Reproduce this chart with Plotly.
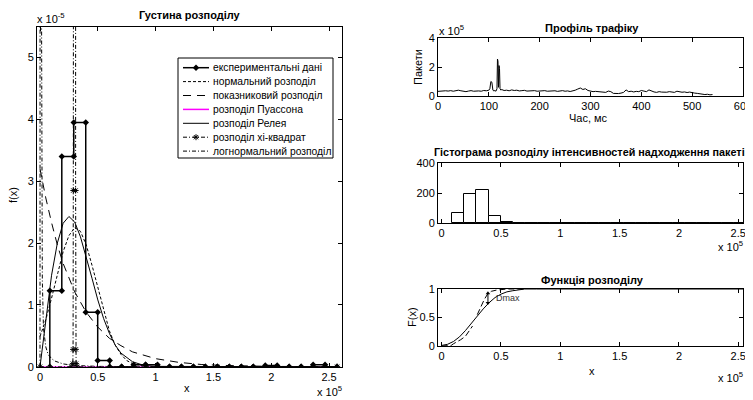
import plotly.graph_objects as go

W, H = 753, 400          # target picture size
OFF = 8                   # page body margin offset
FW, FH = W - OFF, H - OFF  # figure size

# ---------------- data (x in units of 1e5, densities in units of 1e-5) ----------------
hist_start = 0.085
bin_width = 0.1035
hist_counts = [69, 191, 222, 50, 6, 0, 0, 2, 2, 0, 0, 0, 0, 0, 0, 0, 0, 0, 1, 0, 0, 0, 2, 0]
exp_density = [1.23, 3.40, 3.95, 0.88, 0.10, 0, 0, 0.03, 0.03, 0, 0, 0, 0, 0, 0, 0, 0, 0, 0.02, 0, 0, 0, 0.03, 0]

norm_x = [0, 0.05, 0.1, 0.15, 0.2, 0.25, 0.3, 0.35, 0.4, 0.45, 0.5, 0.55, 0.6, 0.65, 0.7, 0.75, 0.8, 0.9, 1.0, 2.57]
norm_y = [0.49, 0.76, 1.11, 1.50, 1.86, 2.12, 2.25, 2.19, 1.97, 1.64, 1.27, 0.90, 0.58, 0.35, 0.20, 0.10, 0.05, 0.01, 0, 0]

expo_x = [0, 0.05, 0.1, 0.15, 0.2, 0.25, 0.3, 0.4, 0.5, 0.6, 0.7, 0.8, 0.9, 1.0, 1.2, 1.4, 1.6, 1.8, 2.0, 2.57]
expo_y = [3.20, 2.73, 2.33, 1.97, 1.67, 1.43, 1.21, 0.88, 0.64, 0.46, 0.34, 0.24, 0.18, 0.13, 0.07, 0.035, 0.02, 0.01, 0.005, 0]

pois_x = [0, 2.57]
pois_y = [0, 0]

ray_x = [0, 0.05, 0.1, 0.15, 0.2, 0.25, 0.3, 0.35, 0.4, 0.45, 0.5, 0.55, 0.6, 0.65, 0.7, 0.8, 0.9, 1.0, 2.57]
ray_y = [0, 0.78, 1.48, 2.00, 2.32, 2.43, 2.34, 2.10, 1.78, 1.43, 1.08, 0.78, 0.54, 0.35, 0.22, 0.08, 0.02, 0.005, 0]

chi_x = [0, 0.27, 0.284, 0.286, 0.288, 0.290, 0.306, 0.308, 0.310, 0.312, 0.32, 2.57]
chi_y = [0, 0, 0.05, 0.28, 2.85, 60, 60, 2.85, 0.28, 0.05, 0, 0]

logn_x = [0, 0.002, 0.004, 0.006, 0.01, 0.015, 0.02, 0.03, 0.04, 0.05, 0.07, 0.1, 0.13, 0.2, 0.3, 0.5, 1.0, 2.57]
logn_y = [0, 30, 60, 30, 8, 3, 1.4, 0.62, 0.42, 0.32, 0.20, 0.13, 0.09, 0.045, 0.02, 0.005, 0, 0]

# traffic profile (packets, units of 1e5) vs time, ms
prof_t = (list(range(0, 101, 5))
          + [102, 104, 106, 108, 110, 112, 114, 116, 117, 118, 119, 120, 121, 122, 124]
          + list(range(125, 541, 5)))
prof_v = ([0.32, 0.35, 0.38, 0.36, 0.34, 0.37, 0.33, 0.35, 0.40, 0.36, 0.32, 0.30, 0.34, 0.37, 0.33,
           0.36, 0.35, 0.33, 0.38, 0.36, 0.40]
          + [0.50, 1.00, 0.95, 0.40, 0.35, 0.38, 0.33, 0.50, 2.55, 2.40, 0.60, 2.10, 1.90, 0.50, 0.40]
          + [0.45, 0.38, 0.40, 0.36, 0.42, 0.38, 0.40, 0.35, 0.37, 0.39, 0.34, 0.36, 0.40, 0.37, 0.33, 0.36]
          + [0.34, 0.37, 0.33, 0.35, 0.38, 0.36, 0.32, 0.34, 0.37, 0.33, 0.35, 0.31, 0.34, 0.40]
          + [0.48, 0.55, 0.45, 0.50, 0.38, 0.33]
          + [0.30, 0.32, 0.29, 0.31, 0.28, 0.25, 0.34, 0.30]
          + [0.18, 0.15, 0.17, 0.20, 0.25]
          + [0.42, 0.30, 0.33, 0.28, 0.32, 0.30, 0.38, 0.35, 0.30, 0.42, 0.33]
          + [0.28, 0.25, 0.30, 0.27, 0.24, 0.26, 0.30, 0.28, 0.25, 0.33, 0.27, 0.26, 0.28, 0.24, 0.27, 0.22]
          + [0.20, 0.18, 0.15, 0.13, 0.10, 0.12, 0.08, 0.10])

cdf_theor_x = [0, 0.05, 0.1, 0.15, 0.2, 0.25, 0.3, 0.35, 0.4, 0.45, 0.5, 0.55, 0.6, 0.65, 0.7, 0.8, 2.57]
cdf_theor_y = [0.01, 0.03, 0.08, 0.16, 0.27, 0.40, 0.53, 0.65, 0.76, 0.85, 0.91, 0.95, 0.97, 0.99, 1.0, 1.0, 1.0]
cdf_emp_x = [0, 0.05, 0.08, 0.1, 0.13, 0.16, 0.2, 0.23, 0.26, None, 0.30, 0.33, 0.36, 0.39, 0.42, 0.46, 0.5, 0.55, 0.6, 0.7]
cdf_emp_y = [0, 0, 0.01, 0.04, 0.07, 0.11, 0.17, 0.25, 0.35, None, 0.55, 0.70, 0.82, 0.92, 0.96, 0.98, 0.99, 1.0, 1.0, 1.0]
dmax_x = 0.39
dmax_lo = 0.755
dmax_hi = 0.925

legend_names = ["експериментальні дані", "нормальний розподіл", "показниковий розподіл",
                "розподіл Пуассона", "розподіл Релея", "розподіл хі-квадрат", "логнормальний розподіл"]

# ---------------- helpers ----------------
def px(x):
    return (x - OFF) / FW

def py(y):
    return 1 - (y - OFF) / FH

FONT = "Liberation Sans, Arial, sans-serif"
BLACK = "black"

edges = [hist_start + i * bin_width for i in range(len(hist_counts) + 1)]
centers = [hist_start + (i + 0.5) * bin_width for i in range(len(hist_counts))]
exp_x = [edges[0]]
exp_y = [0]
for i, d in enumerate(exp_density):
    exp_x += [edges[i], edges[i + 1]]
    exp_y += [d, d]

fig = go.Figure()

# left density plot
fig.add_trace(go.Scatter(x=pois_x, y=pois_y, mode="lines", line=dict(color="magenta", width=1),
                         xaxis="x", yaxis="y", showlegend=False))
fig.add_trace(go.Scatter(x=exp_x, y=exp_y, mode="lines+markers",
                         line=dict(color=BLACK, width=1.5),
                         marker=dict(symbol="diamond", size=5, color=BLACK),
                         xaxis="x", yaxis="y", showlegend=False))
fig.add_trace(go.Scatter(x=norm_x, y=norm_y, mode="lines", line=dict(color=BLACK, width=1, dash="3px,2px"),
                         xaxis="x", yaxis="y", showlegend=False))
fig.add_trace(go.Scatter(x=expo_x, y=expo_y, mode="lines", line=dict(color=BLACK, width=1, dash="8px,6px"),
                         xaxis="x", yaxis="y", showlegend=False))
fig.add_trace(go.Scatter(x=ray_x, y=ray_y, mode="lines", line=dict(color=BLACK, width=1),
                         xaxis="x", yaxis="y", showlegend=False))
fig.add_trace(go.Scatter(x=chi_x, y=chi_y, mode="lines+markers",
                         line=dict(color=BLACK, width=1, dash="4px,2px,1px,2px"),
                         marker=dict(symbol="asterisk-open", size=5, color=BLACK, line=dict(color=BLACK, width=1)),
                         xaxis="x", yaxis="y", showlegend=False))
fig.add_trace(go.Scatter(x=logn_x, y=logn_y, mode="lines",
                         line=dict(color=BLACK, width=1, dash="4px,2px,1px,2px"),
                         xaxis="x", yaxis="y", showlegend=False))

# profile
fig.add_trace(go.Scatter(x=prof_t, y=prof_v, mode="lines", line=dict(color=BLACK, width=1),
                         xaxis="x2", yaxis="y2", showlegend=False))
# histogram
fig.add_trace(go.Bar(x=centers, y=hist_counts, width=bin_width,
                     marker=dict(color="white", line=dict(color=BLACK, width=1)),
                     xaxis="x3", yaxis="y3", showlegend=False))
# cdf
fig.add_trace(go.Scatter(x=cdf_theor_x, y=cdf_theor_y, mode="lines", line=dict(color=BLACK, width=1),
                         xaxis="x4", yaxis="y4", showlegend=False))
fig.add_trace(go.Scatter(x=cdf_emp_x, y=cdf_emp_y, mode="lines", line=dict(color=BLACK, width=1, dash="6px,3px"),
                         xaxis="x4", yaxis="y4", showlegend=False, connectgaps=False))
fig.add_trace(go.Scatter(x=[dmax_x, dmax_x], y=[dmax_lo, dmax_hi], mode="lines+markers",
                         line=dict(color=BLACK, width=1),
                         marker=dict(symbol=["triangle-down", "triangle-up"], size=4, color=BLACK),
                         xaxis="x4", yaxis="y4", showlegend=False))

# ---------------- manual legend (overlay axis in picture pixel units) ----------------
leg_left, leg_right, leg_top, leg_bottom = 178, 333, 58, 158
row0, row_step = 67.7, 13.9
sx0, sx1 = 183, 209
styles = [
    (dict(color=BLACK, width=1.5), dict(symbol="diamond", size=5, color=BLACK)),
    (dict(color=BLACK, width=1, dash="3px,2px"), None),
    (dict(color=BLACK, width=1, dash="8px,6px"), None),
    (dict(color="magenta", width=1.5), None),
    (dict(color=BLACK, width=1), None),
    (dict(color=BLACK, width=1, dash="4px,2px,1px,2px"),
     dict(symbol="asterisk-open", size=5, color=BLACK, line=dict(color=BLACK, width=1))),
    (dict(color=BLACK, width=1, dash="4px,2px,1px,2px"), None),
]
shapes = [dict(type="rect", xref="paper", yref="paper", x0=px(leg_left), x1=px(leg_right),
               y0=py(leg_bottom), y1=py(leg_top), line=dict(color=BLACK, width=1),
               fillcolor="rgba(0,0,0,0)", layer="above")]
annotations = []
for i, (name, (ln, mk)) in enumerate(zip(legend_names, styles)):
    yy = row0 + i * row_step
    fig.add_trace(go.Scatter(x=[sx0, sx1], y=[yy, yy], mode="lines", line=ln, xaxis="x5", yaxis="y5",
                             showlegend=False, hoverinfo="skip"))
    if mk is not None:
        fig.add_trace(go.Scatter(x=[(sx0 + sx1) / 2], y=[yy], mode="markers", marker=mk, xaxis="x5",
                                 yaxis="y5", showlegend=False, hoverinfo="skip"))
    annotations.append(dict(text=name, xref="paper", yref="paper", x=px(211), y=py(yy), xanchor="left",
                            yanchor="middle", showarrow=False, font=dict(size=10.3, color=BLACK, family=FONT)))

def ann(text, x, y, xa="center", ya="middle", size=11, bold=False, angle=0, color=BLACK):
    if bold:
        text = "<b>" + text + "</b>"
    annotations.append(dict(text=text, xref="paper", yref="paper", x=px(x), y=py(y), xanchor=xa, yanchor=ya,
                            showarrow=False, textangle=angle, font=dict(size=size, color=color, family=FONT)))

ann("Густина розподілу", 190, 15, bold=True)
ann("x 10<sup>-5</sup>", 35, 18, xa="left", size=11)
ann("x", 187, 388)
ann("x 10<sup>5</sup>", 344, 391, xa="right")
ann("f(x)", 13, 195, angle=-90)

ann("Профіль трафіку", 592, 28, bold=True)
ann("x 10<sup>5</sup>", 437, 30, xa="left")
ann("Час, мс", 588, 118)
ann("Пакети", 418, 67, angle=-90)

ann("Гістограма розподілу інтенсивностей надходження пакетів", 432, 152, xa="left", size=10.8, bold=True)
ann("x 10<sup>5</sup>", 745, 246, xa="right")

ann("Функція розподілу", 592, 280, bold=True)
ann("x", 592, 371)
ann("x 10<sup>5</sup>", 745, 377, xa="right")
ann("F(x)", 412, 317, angle=-90)
ann("Dmax", 494, 298, xa="left", size=9, color="#333333")

axis_common = dict(showline=True, linecolor=BLACK, linewidth=1, mirror="ticks", ticks="inside", ticklen=4,
                   tickcolor=BLACK, showgrid=False, zeroline=False, automargin=False,
                   tickfont=dict(size=11, color=BLACK, family=FONT))

half = [0, 0.5, 1, 1.5, 2, 2.5]
half_txt = ["0", "0.5", "1", "1.5", "2", "2.5"]

fig.update_layout(
    width=FW, height=FH, margin=dict(l=0, r=0, t=0, b=0, pad=0, autoexpand=False),
    paper_bgcolor="white", plot_bgcolor="rgba(0,0,0,0)", showlegend=False,
    font=dict(family=FONT, color=BLACK),
    xaxis=dict(domain=[px(37), px(342)], range=[-0.026, 2.612], tickvals=half, ticktext=half_txt,
               anchor="y", **axis_common),
    yaxis=dict(domain=[py(366.7), py(26.7)], range=[0, 5.5], tickvals=[0, 1, 2, 3, 4, 5], anchor="x",
               **axis_common),
    xaxis2=dict(domain=[px(438), px(743)], range=[0, 600], tickvals=[0, 100, 200, 300, 400, 500, 600],
                anchor="y2", **axis_common),
    yaxis2=dict(domain=[py(96), py(38)], range=[0, 4], tickvals=[0, 2, 4], anchor="x2", **axis_common),
    xaxis3=dict(domain=[px(438), px(743)], range=[-0.031, 2.54], tickvals=half, ticktext=half_txt,
                anchor="y3", **axis_common),
    yaxis3=dict(domain=[py(223), py(163)], range=[0, 400], tickvals=[0, 200, 400], anchor="x3", **axis_common),
    xaxis4=dict(domain=[px(438), px(743)], range=[-0.031, 2.54], tickvals=half, ticktext=half_txt,
                anchor="y4", **axis_common),
    yaxis4=dict(domain=[py(346), py(289)], range=[0, 1], tickvals=[0, 0.5, 1], anchor="x4", **axis_common),
    xaxis5=dict(domain=[0, 1], range=[OFF, W], visible=False, anchor="y5", automargin=False),
    yaxis5=dict(domain=[0, 1], range=[H, OFF], visible=False, anchor="x5", automargin=False),
    bargap=0,
    shapes=shapes,
    annotations=annotations,
)

fig.write_html("out.html")
